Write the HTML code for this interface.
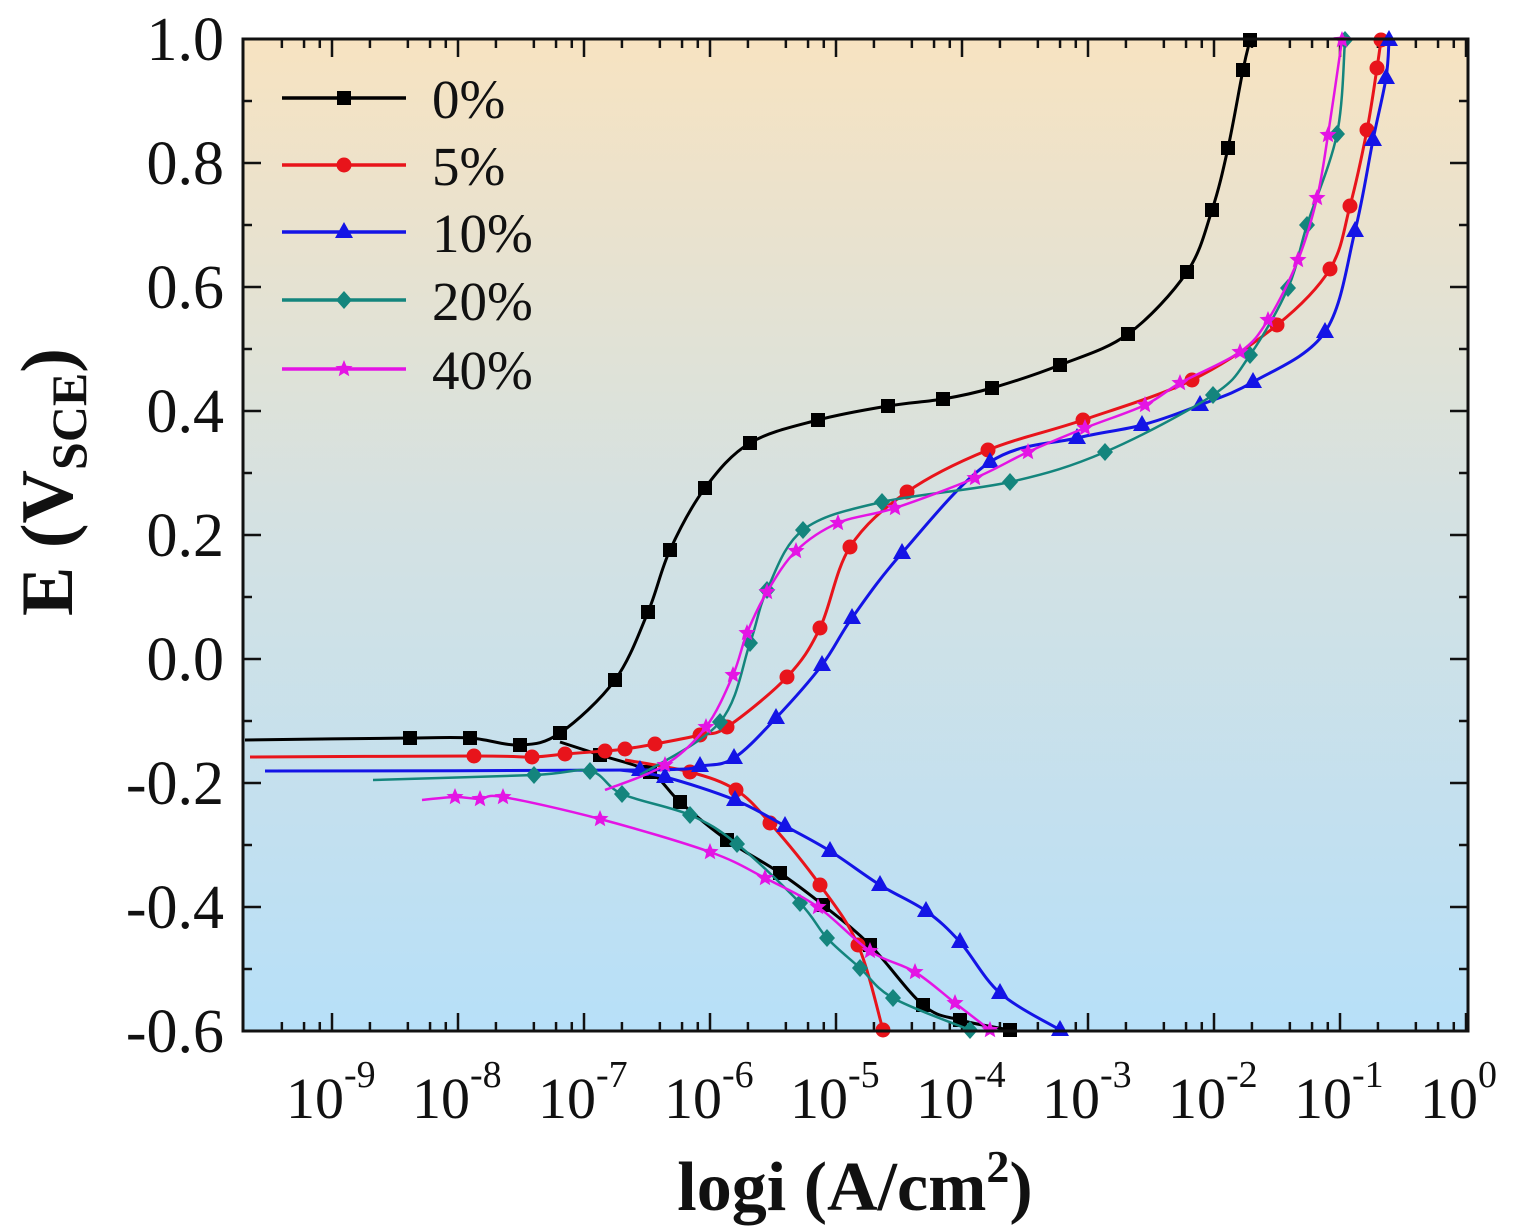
<!DOCTYPE html>
<html><head><meta charset="utf-8"><style>
html,body{margin:0;padding:0;background:#fff;}
svg{display:block;}
text{font-family:"Liberation Serif",serif;}
</style></head><body>
<svg id="s" width="1524" height="1230" xmlns="http://www.w3.org/2000/svg">
<defs><linearGradient id="g" x1="0" y1="0" x2="0" y2="1">
<stop offset="0" stop-color="#f7e3c1"/><stop offset="0.5" stop-color="#d3e1e3"/><stop offset="1" stop-color="#b7e0f8"/></linearGradient></defs>
<rect x="243" y="39" width="1225" height="992" fill="url(#g)"/>
<g id="ticks" stroke="#111" stroke-width="2.5"></g>
<g id="curves"></g>
<rect x="243" y="39" width="1225" height="992" fill="none" stroke="#111" stroke-width="3"/>
<g font-size="62" text-anchor="end" fill="#111">
<text x="224" y="60">1.0</text><text x="224" y="184">0.8</text><text x="224" y="308">0.6</text>
<text x="224" y="432">0.4</text><text x="224" y="556">0.2</text><text x="224" y="680">0.0</text>
<text x="224" y="804">-0.2</text><text x="224" y="928">-0.4</text><text x="224" y="1052">-0.6</text>
</g>
<g id="xl" font-size="58" fill="#111"></g>
<text transform="translate(72,482) rotate(-90)" font-size="74" font-weight="bold" text-anchor="middle" fill="#111">E (V<tspan font-size="50" dy="14">SCE</tspan><tspan dy="-14">)</tspan></text>
<text x="855" y="1210" font-size="70" font-weight="bold" text-anchor="middle" fill="#111">logi (A/cm<tspan font-size="46" dy="-28">2</tspan><tspan dy="28">)</tspan></text>
<g font-size="55" fill="#111">
<text x="432" y="118">0%</text><text x="432" y="185">5%</text><text x="432" y="252">10%</text><text x="432" y="320">20%</text><text x="432" y="389">40%</text>
</g>
</svg>
<script>
var NS="http://www.w3.org/2000/svg";
function el(t,a,p){var e=document.createElementNS(NS,t);for(var k in a)e.setAttribute(k,a[k]);p.appendChild(e);return e;}
var T=document.getElementById('ticks'),C=document.getElementById('curves'),XL=document.getElementById('xl');
for(var d=-10;d<=0;d++){for(var m=1;m<10;m++){if(m!=1&&m%2)continue;var x=332+(d+9)*126+126*Math.log10(m);if(x<244||x>1467)continue;var L=m==1?18:9;
el('line',{x1:x,y1:1031,x2:x,y2:1031-L},T);el('line',{x1:x,y1:39,x2:x,y2:39+L},T);}}
for(var d=-9;d<=0;d++){var x=332+(d+9)*126;var t=el('text',{x:x-46,y:1118},XL);t.textContent='10';var s=el('tspan',{'font-size':'38',dy:'-31'},t);s.textContent=(d==0?'0':'-'+(-d));}
for(var i=0;i<=16;i++){var y=39+i*62;var L=i%2?9:18;el('line',{x1:243,y1:y,x2:243+L,y2:y},T);el('line',{x1:1468,y1:y,x2:1468-L,y2:y},T);}
function path(pts,col,w){var d='M'+pts[0][0]+','+pts[0][1];for(var i=1;i<pts.length;i++){var p0=pts[i-2]||pts[i-1],p1=pts[i-1],p2=pts[i],p3=pts[i+1]||p2;
d+=' C'+(p1[0]+(p2[0]-p0[0])/6)+','+(p1[1]+(p2[1]-p0[1])/6)+' '+(p2[0]-(p3[0]-p1[0])/6)+','+(p2[1]-(p3[1]-p1[1])/6)+' '+p2[0]+','+p2[1];}
el('path',{d:d,fill:'none',stroke:col,'stroke-width':w},C);}
function mk(x,y,col,t){if(t=='s')el('rect',{x:x-7,y:y-7,width:14,height:14,fill:col},C);
else if(t=='c')el('circle',{cx:x,cy:y,r:7.5,fill:col},C);
else if(t=='t')el('polygon',{points:(x)+','+(y-10)+' '+(x-9)+','+(y+6)+' '+(x+9)+','+(y+6),fill:col},C);
else if(t=='d')el('polygon',{points:x+','+(y-9)+' '+(x+8)+','+y+' '+x+','+(y+9)+' '+(x-8)+','+y,fill:col},C);
else{var p=[];for(var i=0;i<10;i++){var a=-Math.PI/2+i*Math.PI/5,rr=i%2?4:9;p.push((x+rr*Math.cos(a))+','+(y+rr*Math.sin(a)));}el('polygon',{points:p.join(' '),fill:col},C);}}
function series(col,t,an,ca,w){path(an,col,w||3);if(ca)path(ca,col,w||3);an.slice(1).forEach(function(p){mk(p[0],p[1],col,t)});if(ca)ca.slice(1).forEach(function(p){mk(p[0],p[1],col,t)});}
series('#000','s',[[245,740],[410,738],[470,738],[520,745],[560,733],[615,680],[648,612],[670,550],[705,488],[750,443],[818,420],[888,406],[943,399],[992,388],[1060,365],[1128,334],[1187,272],[1212,210],[1228,148],[1243,70],[1250,40]],
[[560,742],[600,755],[650,772],[680,802],[727,840],[780,873],[823,905],[870,945],[923,1005],[960,1020],[1010,1030]]);
series('#e8141b','c',[[250,757],[474,756],[532,757],[565,754],[605,751],[625,749],[655,744],[700,735],[727,727],[787,677],[820,628],[850,547],[907,492],[988,450],[1083,420],[1192,380],[1277,325],[1330,269],[1350,206],[1367,130],[1377,68],[1381,40]],
[[625,760],[690,772],[736,790],[770,823],[820,885],[858,945],[883,1030]]);
series('#1414e6','t',[[265,771],[640,770],[700,766],[734,758],[776,718],[822,665],[852,618],[902,553],[990,462],[1077,438],[1142,425],[1200,405],[1253,382],[1325,332],[1355,231],[1373,140],[1386,78],[1389,40]],
[[620,770],[665,777],[735,800],[785,826],[830,851],[880,885],[926,911],[960,942],[1000,993],[1060,1030]]);
series('#14857d','d',[[640,775],[720,722],[750,643],[767,590],[803,530],[882,502],[1010,482],[1105,452],[1213,395],[1250,355],[1288,288],[1307,225],[1337,134],[1345,40]],
[[373,780],[534,775],[590,771],[622,794],[690,815],[737,844],[800,903],[827,938],[860,968],[893,998],[970,1030]],2.5);
series('#e414e4','st',[[605,790],[665,765],[706,727],[733,675],[747,633],[767,592],[796,551],[838,523],[895,508],[975,478],[1028,452],[1085,428],[1145,405],[1180,383],[1240,352],[1268,320],[1298,260],[1317,198],[1328,135],[1342,40]],
[[422,800],[455,797],[480,799],[503,797],[600,819],[710,852],[765,878],[818,907],[870,951],[915,972],[955,1003],[990,1030]],2.5);
var lg=[['#000','s',98],['#e8141b','c',165],['#1414e6','t',232],['#14857d','d',300],['#e414e4','st',369]];
lg.forEach(function(l){el('line',{x1:282,y1:l[2],x2:406,y2:l[2],stroke:l[0],'stroke-width':3.5},C);mk(344,l[2],l[0],l[1]);});
</script>
</body></html>
